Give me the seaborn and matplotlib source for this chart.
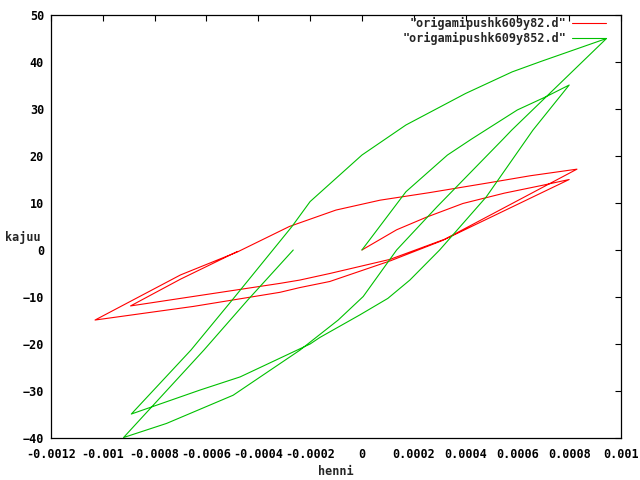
import matplotlib
matplotlib.use("Agg")
import matplotlib.pyplot as plt
import numpy as np
import pandas as pd
import seaborn as sns

# series 1: "origamipushk609y82.d"
red_x = [0.0, 0.000134, 0.00025, 0.00039, 0.00055, 0.0007, 0.0008,
         0.00031, 0.00011, -0.000124, -0.00024, -0.000316, -0.00065, -0.00103,
         -0.0007, -0.00048, -0.00028, -0.0001, 0.00007, 0.00026, 0.00049, 0.00065, 0.00083,
         0.00032, 0.000108, -0.000124, -0.00024, -0.000316, -0.000893,
         -0.0007, -0.00048]
red_y = [0.0, 4.3, 7.0, 9.9, 12.1, 13.8, 15.0,
         2.0, -2.3, -6.7, -8.0, -9.0, -12.0, -14.9,
         -5.3, -0.4, 5.0, 8.5, 10.6, 12.2, 14.3, 15.8, 17.2,
         2.3, -2.0, -5.0, -6.4, -7.1, -11.9,
         -6.2, -0.3]

# series 2: "origamipushk609y852.d"
green_x = [0.0, 0.00017, 0.00033, 0.000423, 0.0006, 0.00071, 0.0008,
           0.00066, 0.00048, 0.0003, 0.000185, 0.0001, -0.0000077, -0.000162, -0.0002,
           -0.00047, -0.000625, -0.00089,
           -0.00066, -0.0005, -0.00027, -0.0002, 0.0, 0.00017, 0.0004, 0.00058, 0.00069, 0.000944,
           0.000578, 0.000545, 0.00029, 0.000134, 0.000005, -0.0000915, -0.000239,
           -0.000497, -0.000754, -0.00092,
           -0.00061, -0.00044, -0.000265]
green_y = [0.0, 12.4, 20.2, 23.6, 29.8, 32.6, 35.1,
           25.5, 11.3, 0.0, -6.4, -10.3, -13.8, -18.6, -20.0,
           -27.0, -29.8, -34.9,
           -21.3, -10.6, 5.0, 10.3, 20.2, 26.6, 33.3, 37.9, 40.1, 45.0,
           25.5, 23.6, 9.2, 0.0, -9.9, -14.9, -21.3,
           -30.9, -36.9, -39.9,
           -21.3, -10.6, 0.0]

labels = ['"origamipushk609y82.d"', '"origamipushk609y852.d"']
colors = ["#ff0000", "#00c000"]

xticks = [-0.0012, -0.001, -0.0008, -0.0006, -0.0004, -0.0002, 0,
          0.0002, 0.0004, 0.0006, 0.0008, 0.001]
xticklabels = ["-0.0012", "-0.001", "-0.0008", "-0.0006", "-0.0004", "-0.0002", "0",
               "0.0002", "0.0004", "0.0006", "0.0008", "0.001"]
yticks = list(range(-40, 51, 10))

sns.set_style("white")
plt.rcParams["font.family"] = ["DejaVu Sans Mono"]
plt.rcParams["font.weight"] = "bold"
plt.rcParams["font.size"] = 8.5

fig = plt.figure(figsize=(6.4, 4.8), dpi=100)
ax = fig.add_axes([51 / 640, 42 / 480, 570 / 640, 423 / 480])

for xs, ys, lab, col in zip([red_x, green_x], [red_y, green_y], labels, colors):
    df = pd.DataFrame({"x": xs, "y": ys})
    sns.lineplot(data=df, x="x", y="y", sort=False, estimator=None,
                 color=col, linewidth=0.8, label=lab, ax=ax)

ax.set_xlim(-0.0012, 0.001)
ax.set_ylim(-40, 50)
ax.set_xticks(xticks)
ax.set_xticklabels(xticklabels)
ax.set_yticks(yticks)
ax.tick_params(direction="in", length=4, width=0.8, top=True, right=True,
               labelsize=8.5, colors="black")
ax.tick_params(axis="x", pad=7)
ax.tick_params(axis="y", pad=5)
for s in ax.spines.values():
    s.set_color("black")
    s.set_linewidth(0.9)

ax.set_xlabel("henni", fontsize=8.5, fontweight="bold")
ax.xaxis.set_label_coords(0.5, -0.064)
ax.set_ylabel("kajuu", rotation=0, fontsize=8.5, fontweight="bold", va="center")
ax.yaxis.set_label_coords(-0.05, 0.473)

leg = ax.legend(loc="upper right", bbox_to_anchor=(1 - 15 / 570, 1 - 2 / 423),
                frameon=False, markerfirst=False, borderpad=0, borderaxespad=0,
                handlelength=2.9, labelspacing=0.15, handletextpad=0.45,
                prop={"family": "DejaVu Sans Mono", "weight": "bold", "size": 8.5})
for t in leg.get_texts():
    t.set_ha("right")

fig.savefig("out.png", dpi=100)
